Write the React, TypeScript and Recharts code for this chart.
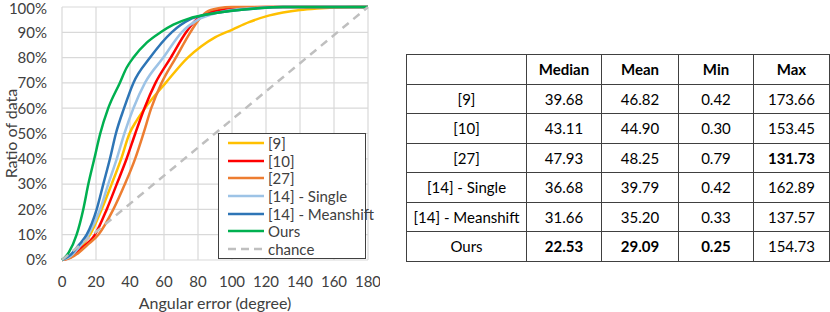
import { LineChart, Line, XAxis, YAxis, CartesianGrid, Label } from "recharts";

const FONT = "Lato, 'Open Sans', sans-serif";

const X_TICKS = [0, 20, 40, 60, 80, 100, 120, 140, 160, 180];
const Y_TICKS = [0, 10, 20, 30, 40, 50, 60, 70, 80, 90, 100];

// [angular error (deg), ratio of data (%)]
const REF9 = [
  [0, 0], [5, 1.5], [10, 4.5], [16.5, 10], [23.3, 20], [29.2, 30], [34.8, 40],
  [39.7, 50], [43.8, 55], [48.8, 60], [61, 70], [74, 80], [82, 84.5], [90, 88],
  [100, 91], [110, 94], [120, 96.3], [130, 97.8], [140, 98.8], [150, 99.4],
  [160, 99.8], [172, 100], [180, 100],
];
const REF10 = [
  [0, 0], [5, 1], [10, 4], [19.4, 10], [26.3, 20], [32.2, 30], [38, 40],
  [43.1, 50], [48.5, 60], [55, 70], [64, 80], [73, 90], [79, 95], [85, 97.5],
  [95, 99], [105, 99.6], [120, 100], [180, 100],
];
const REF27 = [
  [0, 0], [5, 0.8], [10, 3], [15, 6], [21.4, 10], [30.2, 20], [37, 30], [43, 40],
  [47.9, 50], [52.5, 60], [58.6, 70], [67, 80], [75.5, 90], [80.5, 95], [85, 98],
  [92, 99.5], [100, 100], [180, 100],
];
const SINGLE = [
  [0, 0], [5, 1.5], [10, 5], [15.5, 10], [22.4, 20], [27.2, 30], [32.2, 40],
  [36.7, 50], [42, 60], [48.8, 70], [59.6, 80], [70.4, 90], [80, 95], [90, 97.5],
  [100, 98.8], [115, 99.6], [130, 100], [180, 100],
];
const MEANSHIFT = [
  [0, 0], [5, 2], [10, 6], [14.5, 10], [20.4, 20], [24.3, 30], [28.2, 40],
  [31.7, 50], [36.5, 60], [42, 70], [51.8, 80], [64.5, 90], [75, 95], [85, 97],
  [100, 98.5], [115, 99.5], [130, 100], [180, 100],
];
const OURS = [
  [0, 0], [4, 3], [8.6, 10], [12.5, 20], [15.5, 30], [19, 40], [22.5, 50],
  [27.2, 60], [34, 70], [38, 76], [42, 80], [50, 86], [58, 90], [65.5, 93],
  [75, 95.5], [85, 97], [100, 98.5], [115, 99.5], [130, 100], [180, 100],
];
const CHANCE = [[0, 0], [180, 100]];

const SERIES = [
  { name: "[9]", color: "#FFC000", points: REF9 },
  { name: "[10]", color: "#FF0000", points: REF10 },
  { name: "[27]", color: "#ED7D31", points: REF27 },
  { name: "[14] - Single", color: "#9DC3E6", points: SINGLE },
  { name: "[14] - Meanshift", color: "#2E75B6", points: MEANSHIFT },
  { name: "Ours", color: "#00B050", points: OURS },
  { name: "chance", color: "#BFBFBF", points: CHANCE, dashed: true },
];

// table
const COLUMNS = ["Median", "Mean", "Min", "Max"];
const METHODS = ["[9]", "[10]", "[27]", "[14] - Single", "[14] - Meanshift", "Ours"];
const MEDIAN = [39.68, 43.11, 47.93, 36.68, 31.66, 22.53];
const MEAN = [46.82, 44.9, 48.25, 39.79, 35.2, 29.09];
const MIN = [0.42, 0.3, 0.79, 0.42, 0.33, 0.25];
const MAX = [173.66, 153.45, 131.73, 162.89, 137.57, 154.73];

const COL_W = [120, 75, 77, 75, 76];
const ROW_H = 28.5;

const axisText = { fontSize: 15, fill: "#404040", fontFamily: FONT };

function YTitle({ viewBox }: any) {
  const cx = 10;
  const cy = viewBox.y + viewBox.height / 2;
  return (
    <text
      x={cx}
      y={cy}
      transform={`rotate(-90, ${cx}, ${cy})`}
      textAnchor="middle"
      dominantBaseline="central"
      fontSize={16}
      fill="#404040"
      fontFamily={FONT}
    >
      Ratio of data
    </text>
  );
}

function ResultTable() {
  const cols = [MEDIAN, MEAN, MIN, MAX];
  const best = cols.map((c) => Math.min(...c));
  const cell = {
    border: "1px solid #404040",
    padding: 0,
    textAlign: "center" as const,
    height: ROW_H,
    whiteSpace: "nowrap" as const,
  };
  return (
    <table
      style={{
        position: "absolute",
        left: 406,
        top: 54,
        borderCollapse: "collapse",
        tableLayout: "fixed",
        fontFamily: FONT,
        fontSize: 15,
        color: "#000",
      }}
    >
      <colgroup>
        {COL_W.map((w, i) => (
          <col key={i} style={{ width: w }} />
        ))}
      </colgroup>
      <tbody>
        <tr>
          <td style={cell} />
          {COLUMNS.map((c) => (
            <td key={c} style={{ ...cell, fontWeight: 700 }}>
              {c}
            </td>
          ))}
        </tr>
        {METHODS.map((m, r) => (
          <tr key={m}>
            <td style={cell}>{m}</td>
            {cols.map((c, k) => (
              <td
                key={k}
                style={{ ...cell, fontWeight: c[r] === best[k] ? 700 : 400 }}
              >
                {c[r].toFixed(2)}
              </td>
            ))}
          </tr>
        ))}
      </tbody>
    </table>
  );
}

export default function App() {
  return (
    <div
      style={{
        position: "absolute",
        left: 0,
        top: 0,
        width: 830,
        height: 312,
        background: "#fff",
        fontFamily: FONT,
      }}
    >
      <LineChart
        width={380}
        height={312}
        margin={{ top: 7, right: 12, bottom: 0, left: 0 }}
      >
        <CartesianGrid stroke="#D9D9D9" strokeWidth={1.2} />
        <XAxis
          type="number"
          dataKey="x"
          domain={[0, 180]}
          ticks={X_TICKS}
          axisLine={false}
          tickLine={false}
          height={52}
          tickMargin={10}
          tick={axisText}
          allowDuplicatedCategory={false}
        >
          <Label
            value="Angular error (degree)"
            position="insideBottom"
            offset={3}
            style={{ fontSize: 16, fill: "#404040", fontFamily: FONT }}
          />
        </XAxis>
        <YAxis
          type="number"
          domain={[0, 100]}
          ticks={Y_TICKS}
          width={62}
          axisLine={false}
          tickLine={false}
          tickMargin={9}
          tickFormatter={(v) => `${v}%`}
          tick={axisText}
        >
          <Label content={<YTitle />} />
        </YAxis>
        {SERIES.map((s) => (
          <Line
            key={s.name}
            name={s.name}
            data={s.points.map(([x, y]) => ({ x, y }))}
            dataKey="y"
            type={s.dashed ? "linear" : "monotone"}
            stroke={s.color}
            strokeWidth={2.5}
            strokeDasharray={s.dashed ? "8 6" : undefined}
            dot={false}
            activeDot={false}
            isAnimationActive={false}
          />
        ))}
      </LineChart>

      <div
        style={{
          position: "absolute",
          left: 218,
          top: 133,
          width: 148,
          height: 126,
          boxSizing: "border-box",
          border: "1px solid #404040",
          background: "#fff",
          paddingLeft: 9,
        }}
      >
        {SERIES.map((s) => (
          <div
            key={s.name}
            style={{
              display: "flex",
              alignItems: "center",
              height: 17.7,
              fontSize: 15,
              color: "#404040",
              whiteSpace: "nowrap",
            }}
          >
            <svg width={37} height={6} style={{ marginRight: 3, flexShrink: 0 }}>
              <line
                x1={0}
                y1={3}
                x2={36}
                y2={3}
                stroke={s.color}
                strokeWidth={2.5}
                strokeDasharray={s.dashed ? "8 5" : undefined}
              />
            </svg>
            <span>{s.name}</span>
          </div>
        ))}
      </div>

      <ResultTable />
    </div>
  );
}
